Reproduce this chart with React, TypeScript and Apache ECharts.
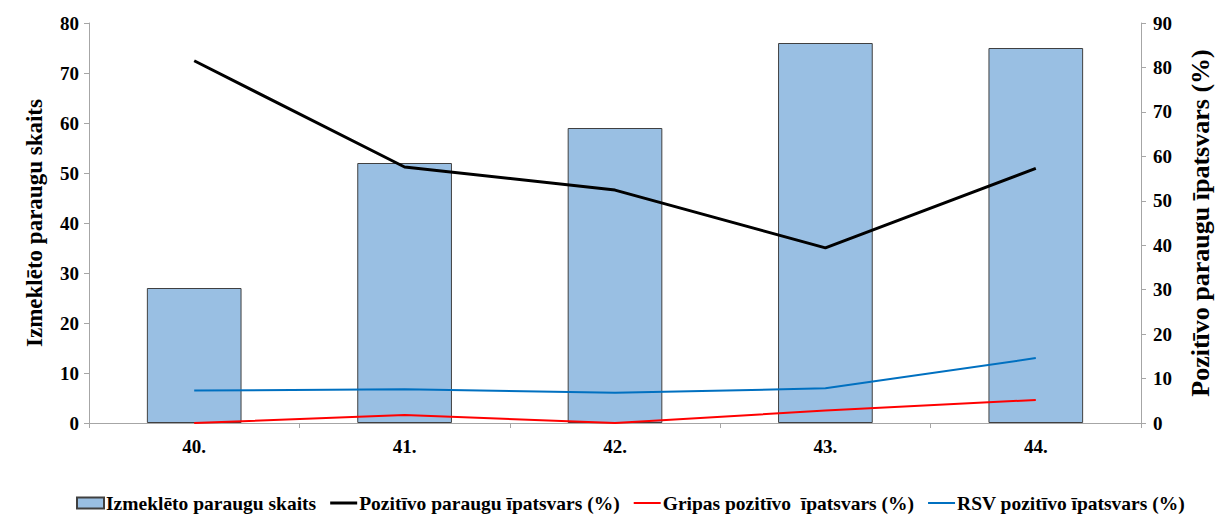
import React, { useEffect, useRef } from "react";
import * as echarts from "echarts";

const categories = ["40.", "41.", "42.", "43.", "44."];
const samplesTested = [27, 52, 59, 76, 75];
const positiveShare = [81.5, 57.6, 52.4, 39.4, 57.3];
const fluPositiveShare = [0, 1.8, 0, 2.8, 5.2];
const rsvPositiveShare = [7.3, 7.6, 6.8, 7.8, 14.6];

const FONT = "'Liberation Serif', 'Times New Roman', serif";
const THICK_LINE = "path://M0,0L0,0M0,4L27,4L27,7L0,7ZM27,11L27,11";
const THIN_LINE = "path://M0,0L0,0M0,4.5L27,4.5L27,6.5L0,6.5ZM27,11L27,11";

export default function App() {
  const ref = useRef<HTMLDivElement>(null);
  useEffect(() => {
    if (!ref.current) return;
    const chart = echarts.init(ref.current, undefined, { renderer: "svg" });
    const axisLabel = { color: "#000", fontFamily: FONT, fontWeight: "bold", fontSize: 19 };
    chart.setOption({
      animation: false,
      textStyle: { fontFamily: FONT },
      grid: { left: 89, right: 64, top: 23, bottom: 91, containLabel: false },
      legend: {
        top: 493,
        left: 76,
        width: 1140,
        padding: 0,
        itemGap: 14,
        itemWidth: 27,
        itemHeight: 11,
        textStyle: { color: "#000", fontFamily: FONT, fontWeight: "bold", fontSize: 19.5, padding: [0, 0, 0, -3] },
        data: [
          { name: "Izmeklēto paraugu skaits", icon: "rect" },
          { name: "Pozitīvo paraugu īpatsvars (%)", icon: THICK_LINE },
          { name: "Gripas pozitīvo  īpatsvars (%)", icon: THIN_LINE },
          { name: "RSV pozitīvo īpatsvars (%)", icon: THIN_LINE },
        ],
      },
      xAxis: {
        type: "category",
        data: categories,
        axisLine: { lineStyle: { color: "#a6a6a6", width: 1 } },
        axisTick: { show: true, alignWithLabel: false, length: 5, lineStyle: { color: "#a6a6a6" } },
        axisLabel: { ...axisLabel, margin: 14 },
      },
      yAxis: [
        {
          type: "value",
          min: 0,
          max: 80,
          interval: 10,
          name: "Izmeklēto paraugu skaits",
          nameLocation: "middle",
          nameGap: 43,
          nameTextStyle: { color: "#000", fontFamily: FONT, fontWeight: "bold", fontSize: 23 },
          axisLine: { show: true, lineStyle: { color: "#a6a6a6" } },
          axisTick: { show: true, length: 5, lineStyle: { color: "#a6a6a6" } },
          axisLabel: { ...axisLabel, margin: 10 },
          splitLine: { show: false },
        },
        {
          type: "value",
          min: 0,
          max: 90,
          interval: 10,
          position: "right",
          name: "Pozitīvo paraugu īpatsvars (%)",
          nameLocation: "middle",
          nameGap: 46,
          nameRotate: 90,
          nameTextStyle: { color: "#000", fontFamily: FONT, fontWeight: "bold", fontSize: 26 },
          axisLine: { show: true, lineStyle: { color: "#a6a6a6" } },
          axisTick: { show: true, length: 5, lineStyle: { color: "#a6a6a6" } },
          axisLabel: { ...axisLabel, margin: 12 },
          splitLine: { show: false },
        },
      ],
      series: [
        {
          name: "Izmeklēto paraugu skaits",
          type: "bar",
          yAxisIndex: 0,
          data: samplesTested,
          barWidth: "45%",
          itemStyle: { color: "#99bfe3", borderColor: "#404040", borderWidth: 1 },
        },
        {
          name: "Pozitīvo paraugu īpatsvars (%)",
          type: "line",
          yAxisIndex: 1,
          data: positiveShare,
          symbol: "none",
          lineStyle: { color: "#000", width: 3 },
          itemStyle: { color: "#000" },
        },
        {
          name: "Gripas pozitīvo  īpatsvars (%)",
          type: "line",
          yAxisIndex: 1,
          data: fluPositiveShare,
          symbol: "none",
          lineStyle: { color: "#ff0000", width: 2 },
          itemStyle: { color: "#ff0000" },
        },
        {
          name: "RSV pozitīvo īpatsvars (%)",
          type: "line",
          yAxisIndex: 1,
          data: rsvPositiveShare,
          symbol: "none",
          lineStyle: { color: "#0070c0", width: 2 },
          itemStyle: { color: "#0070c0" },
        },
      ],
    });
    return () => chart.dispose();
  }, []);
  return (
    <div
      ref={ref}
      style={{ position: "fixed", left: 0, top: 0, width: 1221, height: 514, background: "#fff" }}
    />
  );
}
